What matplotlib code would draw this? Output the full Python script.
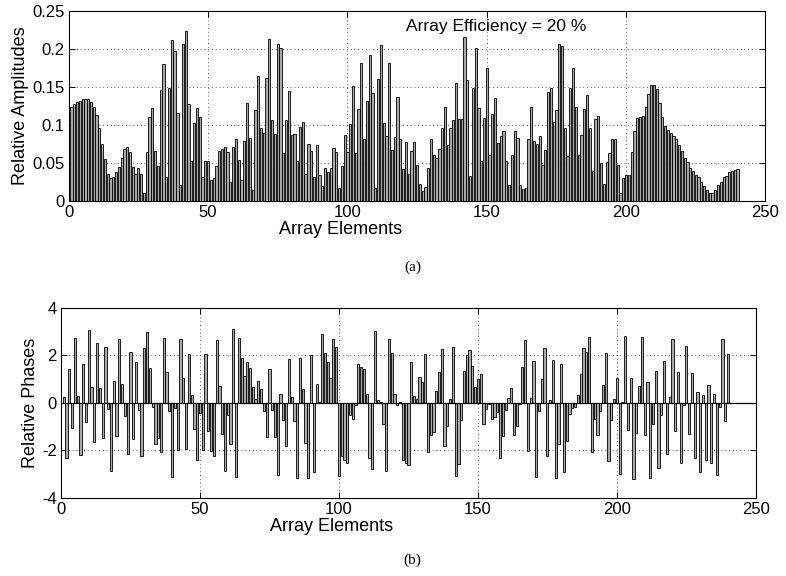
import matplotlib
matplotlib.use('Agg')
import matplotlib.pyplot as plt

# ---------------- data ----------------
amplitudes = [
    0.124, 0.128, 0.130, 0.132, 0.134, 0.134, 0.134, 0.130, 0.124, 0.113,
    0.096, 0.075, 0.055, 0.036, 0.030, 0.032, 0.038, 0.045, 0.057, 0.069,
    0.071, 0.065, 0.045, 0.036, 0.044, 0.036, 0.011, 0.065, 0.110, 0.123,
    0.066, 0.046, 0.146, 0.180, 0.032, 0.149, 0.212, 0.197, 0.116,
    0.021, 0.206, 0.224, 0.127, 0.053, 0.102, 0.123, 0.111, 0.031, 0.052,
    0.053, 0.028, 0.030, 0.046, 0.066, 0.069, 0.071, 0.065, 0.025, 0.071,
    0.082, 0.054, 0.028, 0.079, 0.129, 0.083, 0.014, 0.120, 0.165, 0.096,
    0.089, 0.162, 0.213, 0.106, 0.088, 0.206, 0.201, 0.063, 0.106, 0.145,
    0.087,
    0.088, 0.053, 0.098, 0.104, 0.036, 0.075, 0.066, 0.031, 0.074, 0.034,
    0.020, 0.044, 0.038, 0.044, 0.070, 0.064, 0.017, 0.046, 0.087, 0.065,
    0.101, 0.151, 0.063, 0.121, 0.182, 0.081, 0.132, 0.192, 0.142, 0.017,
    0.161, 0.205, 0.102, 0.085, 0.181, 0.067, 0.084, 0.137, 0.082, 0.042,
    0.077, 0.036,
    0.066, 0.078, 0.047, 0.023, 0.013, 0.018, 0.044, 0.081, 0.061, 0.056,
    0.069, 0.096, 0.124, 0.074, 0.096, 0.107, 0.155, 0.108, 0.108, 0.216,
    0.159, 0.033, 0.148, 0.201, 0.123, 0.052, 0.109, 0.175, 0.061, 0.114,
    0.135, 0.076, 0.086, 0.092, 0.053, 0.021, 0.061, 0.092, 0.083, 0.021,
    0.016,
    0.017, 0.082, 0.124, 0.079, 0.075, 0.086, 0.047, 0.067, 0.143, 0.149,
    0.104, 0.120, 0.206, 0.204, 0.096, 0.059, 0.148, 0.175, 0.124, 0.061,
    0.087, 0.121, 0.140, 0.096, 0.039, 0.108, 0.112, 0.050, 0.023, 0.051,
    0.063, 0.082, 0.081, 0.048, 0.011, 0.030, 0.034, 0.034, 0.065,
    0.092, 0.109, 0.111, 0.112, 0.124, 0.141, 0.153, 0.153, 0.147, 0.129,
    0.111, 0.099, 0.093, 0.090, 0.086, 0.081, 0.074, 0.066, 0.057, 0.051,
    0.043, 0.039, 0.034, 0.031, 0.025, 0.020, 0.014, 0.010, 0.011, 0.015,
    0.021, 0.025, 0.031, 0.033, 0.038, 0.040, 0.041, 0.042,
]

phases = [
    0.24, -2.30, 1.44, -1.06, 2.75, 0.28, -2.18, 1.62, -0.82, 3.06,
    0.68, -1.63, 2.54, 0.63, -1.48, 2.37, -0.25, -2.86, 0.92, -1.38,
    2.70, 0.80, -0.56, -2.14, 2.15, -1.52, 1.73, -0.28, -2.23, 2.30,
    3.00, 1.48, -0.17, -1.72, -1.48, -2.08, 2.75, 1.30, -0.32, -3.10,
    -0.21, -2.00, 2.68,
    1.06, -1.94, 2.07, 0.35, -1.10, -2.42, -0.42, -2.00, 2.08, -1.20,
    -2.04, -2.25, 2.65, 0.70, -1.30, -2.86, -0.49, -1.72, 3.10, -3.10,
    2.72, 1.90, 1.15, 1.73, 1.48, 0.68, 0.17, 0.92, 0.59, -0.35,
    -1.44, 1.41, -0.31, -1.44, -3.03, 0.38, -0.70, -1.83, 1.86, 0.24,
    -0.77,
    -3.14, 1.90, 0.59, -1.69, -3.14, 2.03, -2.89, 0.80, 0.05, 2.89,
    2.11, 1.73, 1.06, 2.70, 2.37, -3.06, -2.25, -2.39, -2.54, -0.52,
    -0.66, -0.10, 1.62, 1.51, 1.41, 0.39, -2.32, -2.77, 3.03, 0.14,
    0.04, -0.87, -2.85, 2.68, 2.11, 0.39, -0.10, 0.03, -2.42, -2.54,
    -2.61,
    1.72, 0.31, 0.17, 1.08, 0.87, 2.07, -2.08, -1.34, -1.24, 0.52,
    1.31, 2.28, -1.80, -0.96, 0.18, 2.37, -3.06, -2.56, -0.70, 1.35,
    2.00, 2.23, 1.55, 0.66, 0.99, 1.23, -0.87, -0.25, -0.03, -0.66,
    -0.61, -0.38, -2.32, -1.38, -0.31, 0.20, 0.63, -1.34, -0.96, -0.04,
    1.52, 2.65, -2.04, 0.20, 1.76, -3.10, -0.35, 0.99, 2.30, -2.25,
    0.14, 1.80, -3.17, -1.72, 1.66, -2.89, -1.58, -0.46, -0.21, -0.15,
    0.35, 1.24, 2.32, 2.15, 2.77, -2.07, -0.68, -1.34, -0.35, 0.77,
    2.11, -2.46, -0.73, 0.18, 1.06, -2.99, 0.03, 2.82, -1.13, 1.06,
    -3.21, -1.27, 0.73,
    2.77, -1.35, 0.89, -3.14, -0.89, 1.34, -2.75, -0.52, 1.76, -2.14,
    0.24, 2.68, -1.17, 1.30, -2.54, -0.07, 2.39, -1.31, 1.27, -2.32,
    0.46, -2.89, 0.35, -2.42, 0.77, -2.54, 0.38, -3.04, -0.18, 2.68,
    -0.77, 2.08,
]

elements = list(range(1, len(amplitudes) + 1))
x_ticks = [0, 50, 100, 150, 200, 250]
amp_ticks = [0, 0.05, 0.1, 0.15, 0.2, 0.25]
amp_ticklabels = ['0', '0.05', '0.1', '0.15', '0.2', '0.25']
phase_ticks = [-4, -2, 0, 2, 4]
x_label = 'Array Elements'
amp_label = 'Relative Amplitudes'
phase_label = 'Relative Phases'
annotation = 'Array Efficiency = 20 %'
panel_labels = ['(a)', '(b)']

# ---------------- style ----------------
plt.rcParams['font.family'] = ['Liberation Sans', 'DejaVu Sans']
plt.rcParams['axes.unicode_minus'] = False
TICK_FS = 12
LABEL_FS = 13
BAR_FACE = '#a9a9a9'

fig = plt.figure(figsize=(7.86, 5.76), dpi=100)
ax1 = fig.add_axes([0.0874, 0.651, 0.8865, 0.330])
ax2 = fig.add_axes([0.0776, 0.1354, 0.884, 0.330])


def style(ax):
    ax.set_axisbelow(True)
    ax.grid(True, linestyle=(0, (1, 3.5)), color='#333333', linewidth=0.6)
    ax.tick_params(direction='in', top=True, right=True, length=4,
                   width=0.7, labelsize=TICK_FS, pad=3)
    for s in ax.spines.values():
        s.set_linewidth(0.8)
    ax.set_xlim(0, 250)
    ax.set_xticks(x_ticks)


ax1.bar(elements, amplitudes, width=0.8, color=BAR_FACE,
        edgecolor='black', linewidth=0.6)
style(ax1)
ax1.set_ylim(0, 0.25)
ax1.set_yticks(amp_ticks)
ax1.set_yticklabels(amp_ticklabels)
ax1.set_xlabel(x_label, fontsize=LABEL_FS, labelpad=0)
ax1.xaxis.set_label_coords(0.39, -0.105)
ax1.set_ylabel(amp_label, fontsize=LABEL_FS, labelpad=2)
ax1.text(121, 0.230, annotation, fontsize=12.5, va='center', ha='left')

ax2.bar(elements, phases, width=0.8, color=BAR_FACE,
        edgecolor='black', linewidth=0.6)
style(ax2)
ax2.axhline(0, color='black', linewidth=0.9)
ax2.set_ylim(-4, 4)
ax2.set_yticks(phase_ticks)
ax2.set_xlabel(x_label, fontsize=LABEL_FS, labelpad=0)
ax2.xaxis.set_label_coords(0.39, -0.105)
ax2.set_ylabel(phase_label, fontsize=LABEL_FS, labelpad=2)

fig.text(0.525, 0.536, panel_labels[0], fontsize=11, ha='center',
         va='center', family='Liberation Serif')
fig.text(0.525, 0.028, panel_labels[1], fontsize=11, ha='center',
         va='center', family='Liberation Serif')

fig.savefig('out.png', dpi=100)
